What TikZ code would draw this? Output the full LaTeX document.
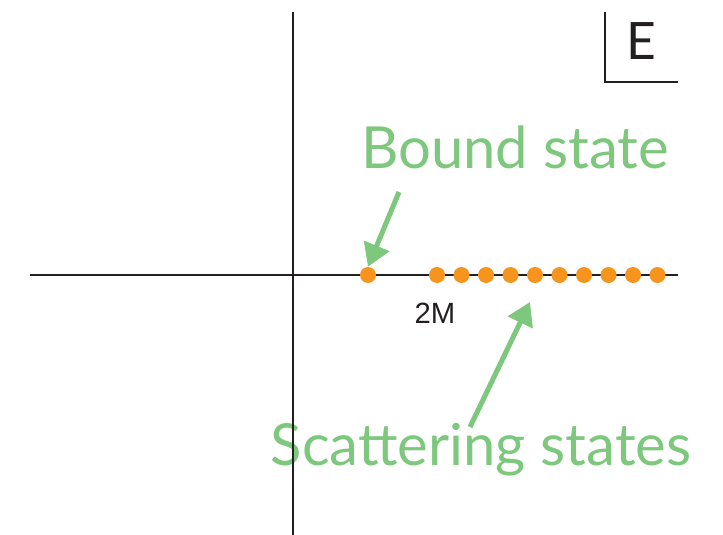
\documentclass[tikz,border=0pt]{standalone}
\usepackage{fontspec}
\setmainfont{Lato}
\newfontfamily\helv{Liberation Sans}
\usetikzlibrary{arrows.meta}
\definecolor{stategreen}{RGB}{125, 200, 125}
\definecolor{stateorange}{RGB}{247, 148, 30}
\definecolor{axisgray}{RGB}{35, 31, 32}

\tikzset{
  axis/.style={axisgray, line width=1.8pt},
  statedot/.style={circle, fill=stateorange, inner sep=0pt, minimum size=0.48cm},
  greenlabel/.style={text=stategreen, anchor=base, inner sep=0pt, font=\fontsize{49.5}{52}\selectfont},
  greenarrow/.style={stategreen, line width=4.3pt, -{Triangle[width=0.8cm, length=0.68cm]}}
}

\begin{document}
\begin{tikzpicture}[x=0.03cm, y=-0.03cm]
  \useasboundingbox (0,0) rectangle (723,535);
  % labels
  \node[greenlabel] (bound) at (515,168) {Bound state};
  \node[greenlabel] (scatter) at (481,465) {Scattering states};
  % axes
  \draw[axis] (293,12) -- (293,535);
  \draw[axis] (30,275) -- (678,275);
  % energy box
  \draw[axis] (605,12) -- (605,82) -- (678,82);
  \node[anchor=base, inner sep=0pt, text=axisgray, font=\fontsize{44}{46}\selectfont] (elabel) at (641,60) {E};
  \node[anchor=base, inner sep=0pt, text=axisgray, font=\helv\fontsize{25}{27}\selectfont] (twom) at (435,323) {2M};
  % states
  \node[statedot] (b0) at (368,275) {};
  \foreach \i in {0,...,9} {
    \node[statedot] (s\i) at (437+24.5*\i,275) {};
  }
  % arrows
  \coordinate (btail) at (399,192);
  \coordinate (stail) at (470,427);
  \coordinate (stip) at (530,302);
  \draw[greenarrow] (btail) -- (b0.north);
  \draw[greenarrow] (stail) -- (stip);
\end{tikzpicture}
\end{document}
